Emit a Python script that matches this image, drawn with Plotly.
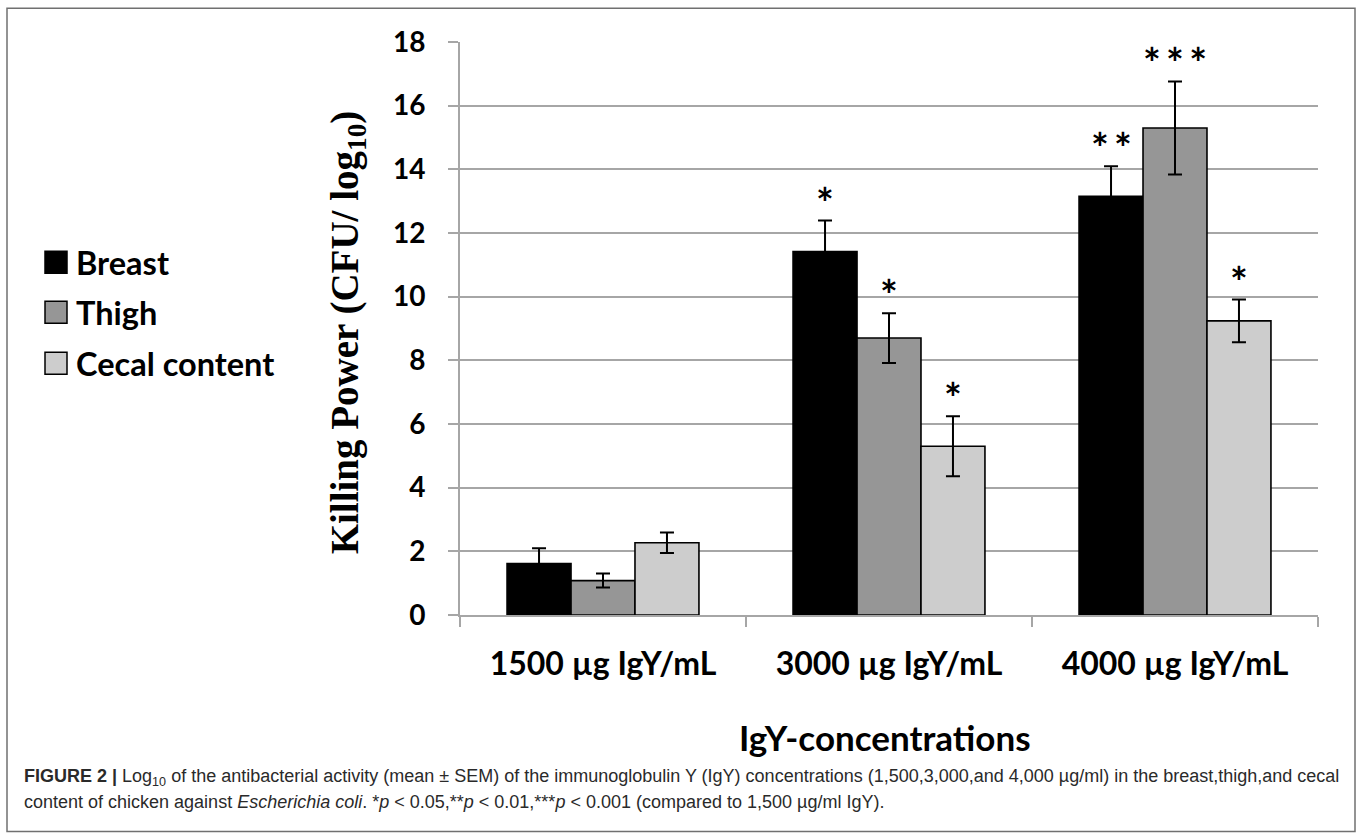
import plotly.graph_objects as go

categories = ["1500 µg IgY/mL", "3000 µg IgY/mL", "4000 µg IgY/mL"]
series_names = ["Breast", "Thigh", "Cecal content"]
breast = [1.62, 11.42, 13.15]
thigh = [1.08, 8.70, 15.30]
cecal = [2.27, 5.30, 9.24]
breast_sem = [0.48, 0.97, 0.95]
thigh_sem = [0.22, 0.78, 1.46]
cecal_sem = [0.32, 0.94, 0.67]
breast_sig = ["", "*", "**"]
thigh_sig = ["", "*", "***"]
cecal_sig = ["", "*", "*"]
y_ticks = [0, 2, 4, 6, 8, 10, 12, 14, 16, 18]

colors = ["#000000", "#969696", "#cdcdcd"]
values = [breast, thigh, cecal]
sems = [breast_sem, thigh_sem, cecal_sem]
sigs = [breast_sig, thigh_sig, cecal_sig]

W, H = 1358, 833
L, R, T, B = 460, 1318, 41.7, 614.6
BARGAP = 0.329

def px(x):
    return (x - L) / (R - L)

def py(y):
    return (B - y) / (B - T)

fig = go.Figure()
for name, vals, err, col in zip(series_names, values, sems, colors):
    fig.add_trace(go.Bar(
        x=categories, y=vals, name=name,
        marker=dict(color=col, line=dict(color="#000000", width=1.6)),
        error_y=dict(type="data", array=err, visible=True, color="#000000",
                     thickness=2, width=7),
        showlegend=False,
    ))

annotations = []
# significance stars, placed above each error bar
nb = len(series_names)
for i, (vals, err, sig) in enumerate(zip(values, sems, sigs)):
    for j, cat in enumerate(categories):
        if not sig[j]:
            continue
        annotations.append(dict(
            x=j + (i - (nb - 1) / 2) * (1 - BARGAP) / nb, xref="x",
            y=vals[j] + err[j], yref="y",
            text="<b>" + "\u2009".join(sig[j]) + "</b>",
            showarrow=False, xanchor="center", yanchor="bottom", yshift=-9,
            font=dict(family="Lato", size=42, color="#000000"),
        ))

# axis titles
annotations.append(dict(
    x=px(885), y=py(737), xref="paper", yref="paper",
    xanchor="center", yanchor="middle",
    text="<b>IgY-concentrations</b>", showarrow=False,
    font=dict(family="Lato", size=35, color="#000000"),
))
annotations.append(dict(
    x=px(347), y=py(332), xref="paper", yref="paper",
    xanchor="center", yanchor="middle",
    text="<b>Killing Power (CFU/ log<sub>10</sub>)</b>", showarrow=False,
    textangle=-90,
    font=dict(family="Liberation Serif", size=39, color="#000000"),
))

# legend (custom)
shapes = []
leg_y = [262, 312, 363]
for name, col, yy in zip(series_names, colors, leg_y):
    shapes.append(dict(type="rect", xref="paper", yref="paper",
                       x0=px(45), x1=px(67), y0=py(yy - 11), y1=py(yy + 11),
                       fillcolor=col, line=dict(color="#000000", width=1.5)))
    annotations.append(dict(
        x=px(74), y=py(yy), xref="paper", yref="paper",
        xanchor="left", yanchor="middle",
        text="<b>" + name + "</b>", showarrow=False,
        font=dict(family="Lato", size=32.5, color="#000000"),
    ))

# caption
cap1 = ("<b>FIGURE 2 |</b> Log<sub>10</sub> of the antibacterial activity (mean ± SEM) of the "
        "immunoglobulin Y (IgY) concentrations (1,500,3,000,and 4,000 µg/ml) in the breast,thigh,and cecal")
cap2 = ("content of chicken against <i>Escherichia coli</i>. *<i>p</i> &lt; 0.05,**<i>p</i> &lt; 0.01,"
        "***<i>p</i> &lt; 0.001 (compared to 1,500 µg/ml IgY).")
for txt, yy in [(cap1, 777), (cap2, 802)]:
    annotations.append(dict(
        x=px(22), y=py(yy), xref="paper", yref="paper",
        xanchor="left", yanchor="middle",
        text=txt, showarrow=False,
        font=dict(family="Liberation Sans", size=18, color="#2a2a2a"),
    ))

# frame
shapes.append(dict(type="rect", xref="paper", yref="paper",
                   x0=px(7), x1=px(1355), y0=py(831), y1=py(8),
                   line=dict(color="#707070", width=1.5), fillcolor="rgba(0,0,0,0)",
                   layer="below"))

fig.update_layout(
    width=W, height=H,
    margin=dict(l=L, r=W - R, t=T, b=H - B, pad=0),
    paper_bgcolor="#ffffff", plot_bgcolor="#ffffff",
    barmode="group", bargap=BARGAP, bargroupgap=0,
    annotations=annotations, shapes=shapes,
    xaxis=dict(
        type="category", showline=True, linecolor="#a6a6a6", linewidth=2,
        ticks="outside", tickson="boundaries", ticklen=10, tickcolor="#a6a6a6",
        tickwidth=2, showgrid=False,
        tickfont=dict(family="Lato", size=32, color="#000000", weight="bold"),
        ticklabelstandoff=20,
    ),
    yaxis=dict(
        range=[0, 18], tickvals=y_ticks, showline=True, linecolor="#a6a6a6",
        linewidth=2, ticks="outside", ticklen=10, tickcolor="#a6a6a6", tickwidth=2,
        showgrid=True, gridcolor="#a6a6a6", gridwidth=2, zeroline=False,
        tickfont=dict(family="Lato", size=28, color="#000000", weight="bold"),
        ticklabelstandoff=17,
    ),
)

fig.write_html("out.html", config={"displayModeBar": False},
               post_script="document.body.style.margin='0px';")
